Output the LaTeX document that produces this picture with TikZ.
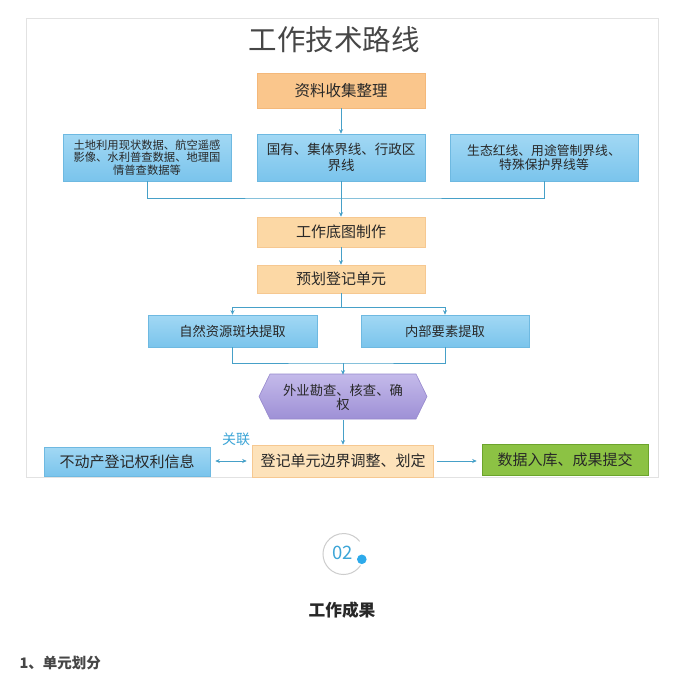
\documentclass[tikz,border=0pt]{standalone}
\usepackage{fontspec}
\setmainfont{Noto Sans CJK SC}
\usetikzlibrary{arrows.meta}
\definecolor{conncol}{RGB}{70,160,200}
\definecolor{bluetop}{RGB}{162,216,244}
\definecolor{bluebot}{RGB}{122,196,236}
\definecolor{blueline}{RGB}{110,185,225}
\definecolor{orA}{RGB}{250,198,140}
\definecolor{orAline}{RGB}{244,184,122}
\definecolor{orE}{RGB}{252,216,165}
\definecolor{orEline}{RGB}{246,200,145}
\definecolor{orJ}{RGB}{253,226,186}
\definecolor{purtop}{RGB}{196,186,234}
\definecolor{purbot}{RGB}{158,144,214}
\definecolor{purline}{RGB}{150,136,205}
\definecolor{grfill}{RGB}{140,194,68}
\definecolor{grline}{RGB}{108,164,44}
\definecolor{txtcol}{RGB}{40,40,40}
\definecolor{titlecol}{RGB}{70,70,70}
\definecolor{framecol}{RGB}{226,226,226}
\definecolor{numcol}{RGB}{60,165,215}
\definecolor{dotcol}{RGB}{45,170,235}
\definecolor{ringcol}{RGB}{205,205,205}
\tikzset{
  boxbase/.style={rectangle, inner sep=0pt, align=center, text=txtcol, line width=0.6pt},
  bluebox/.style={boxbase, draw=blueline, top color=bluetop, bottom color=bluebot},
  orangeA/.style={boxbase, draw=orAline, fill=orA},
  orangeE/.style={boxbase, draw=orEline, fill=orE},
  orangeJ/.style={boxbase, draw=orEline, fill=orJ},
  greenbox/.style={boxbase, draw=grline, fill=grfill},
  conn/.style={draw=conncol, line width=0.8pt},
  tip/.style={-{Stealth[length=4.5pt,width=4pt]}},
  fs/.style 2 args={font=\fontsize{#1}{#2}\selectfont}
}
\begin{document}
\begin{tikzpicture}[x=1pt,y=-1pt]
\useasboundingbox (0,0) rectangle (678,691);
\fill[white] (0,0) rectangle (678,691);
\draw[framecol, line width=0.8pt] (26,18) rectangle (658,477);

\node[text=titlecol, fs={28.5}{32}] (title) at (334,40) {工作技术路线};

\node[orangeA, minimum width=168pt, minimum height=35pt, fs={15.5}{18}] (A) at (341,90.5) {资料收集整理};

\node[bluebox, minimum width=168pt, minimum height=47pt, fs={11.3}{12.6}] (B) at (147,157.5) {土地利用现状数据、航空遥感\\影像、水利普查数据、地理国\\情普查数据等};
\node[bluebox, minimum width=168pt, minimum height=47pt, fs={13.5}{15.5}] (C) at (341,157.5) {国有、集体界线、行政区\\界线};
\node[bluebox, minimum width=188pt, minimum height=47pt, fs={12.8}{14.5}] (D) at (544,157.5) {生态红线、用途管制界线、\\特殊保护界线等};

\node[orangeE, minimum width=168pt, minimum height=30pt, fs={15}{18}] (E) at (341,232) {工作底图制作};
\node[orangeE, minimum width=168pt, minimum height=28pt, fs={15}{18}] (F) at (341,279) {预划登记单元};

\node[bluebox, minimum width=169pt, minimum height=32pt, fs={13.3}{16}] (G) at (232.5,331) {自然资源斑块提取};
\node[bluebox, minimum width=168pt, minimum height=32pt, fs={13.3}{16}] (H) at (445,331) {内部要素提取};

\shade[top color=purtop, bottom color=purbot, draw=purline, line width=0.6pt]
  (259,396.5) -- (270,374) -- (416,374) -- (427,396.5) -- (416,419) -- (270,419) -- cycle;
\node[boxbase, minimum width=168pt, minimum height=45pt, fs={13.3}{14.5}] (I) at (343,397.5) {外业勘查、核查、确\\权};

\node[orangeJ, minimum width=181pt, minimum height=32pt, fs={15}{18}] (J) at (343,461) {登记单元边界调整、划定};
\node[bluebox, minimum width=166pt, minimum height=29pt, fs={15}{18}] (K) at (127,461.5) {不动产登记权利信息};
\node[greenbox, minimum width=166pt, minimum height=31pt, fs={15}{18}] (L) at (565,460) {数据入库、成果提交};

\node[text=numcol, fs={14}{16}] (rel) at (236,439) {关联};

% connectors
\draw[conn,tip] (A) -- (C);
\coordinate (bus) at (341,198);
\draw[conn] (B.south) |- (bus) -| (D.south);
\draw[conn,tip] (C) -- (E);
\draw[conn,tip] (E) -- (F);
\coordinate (split) at (341,307);
\draw[conn] (F.south) -- (split);
\draw[conn,tip] (split) -| (G.north);
\draw[conn,tip] (split) -| (H.north);
\coordinate (join) at (343,363);
\draw[conn] (G.south) |- (join) -| (H.south);
\draw[conn,tip] (join) -- (I.north);
\draw[conn,tip] (I.south) -- (J.north);
\draw[conn,{Stealth[length=4.5pt,width=4pt]}-{Stealth[length=4.5pt,width=4pt]}, shorten <=5pt, shorten >=5.5pt] (K.east |- J.west) -- (J.west);
\draw[conn,tip, shorten <=3pt, shorten >=5pt] (J.east) -- (L.west |- J.east);

% lower part
\node[text=numcol, fs={18.5}{20}] (num) at (342.7,552.5) {02};
\draw[ringcol, line width=1pt] (343.5,554) ++(34:20.5) arc[start angle=34, end angle=322, radius=20.5];
\fill[dotcol] (361.8,559.3) circle[radius=4.8];
\node[text=txtcol, fs={16.7}{19}] (res) at (342,610) {\bfseries 工作成果};
\node[text=titlecol, fs={14.5}{17}, anchor=west] (sec) at (16,663) {\bfseries 1、单元划分};
\end{tikzpicture}
\end{document}
